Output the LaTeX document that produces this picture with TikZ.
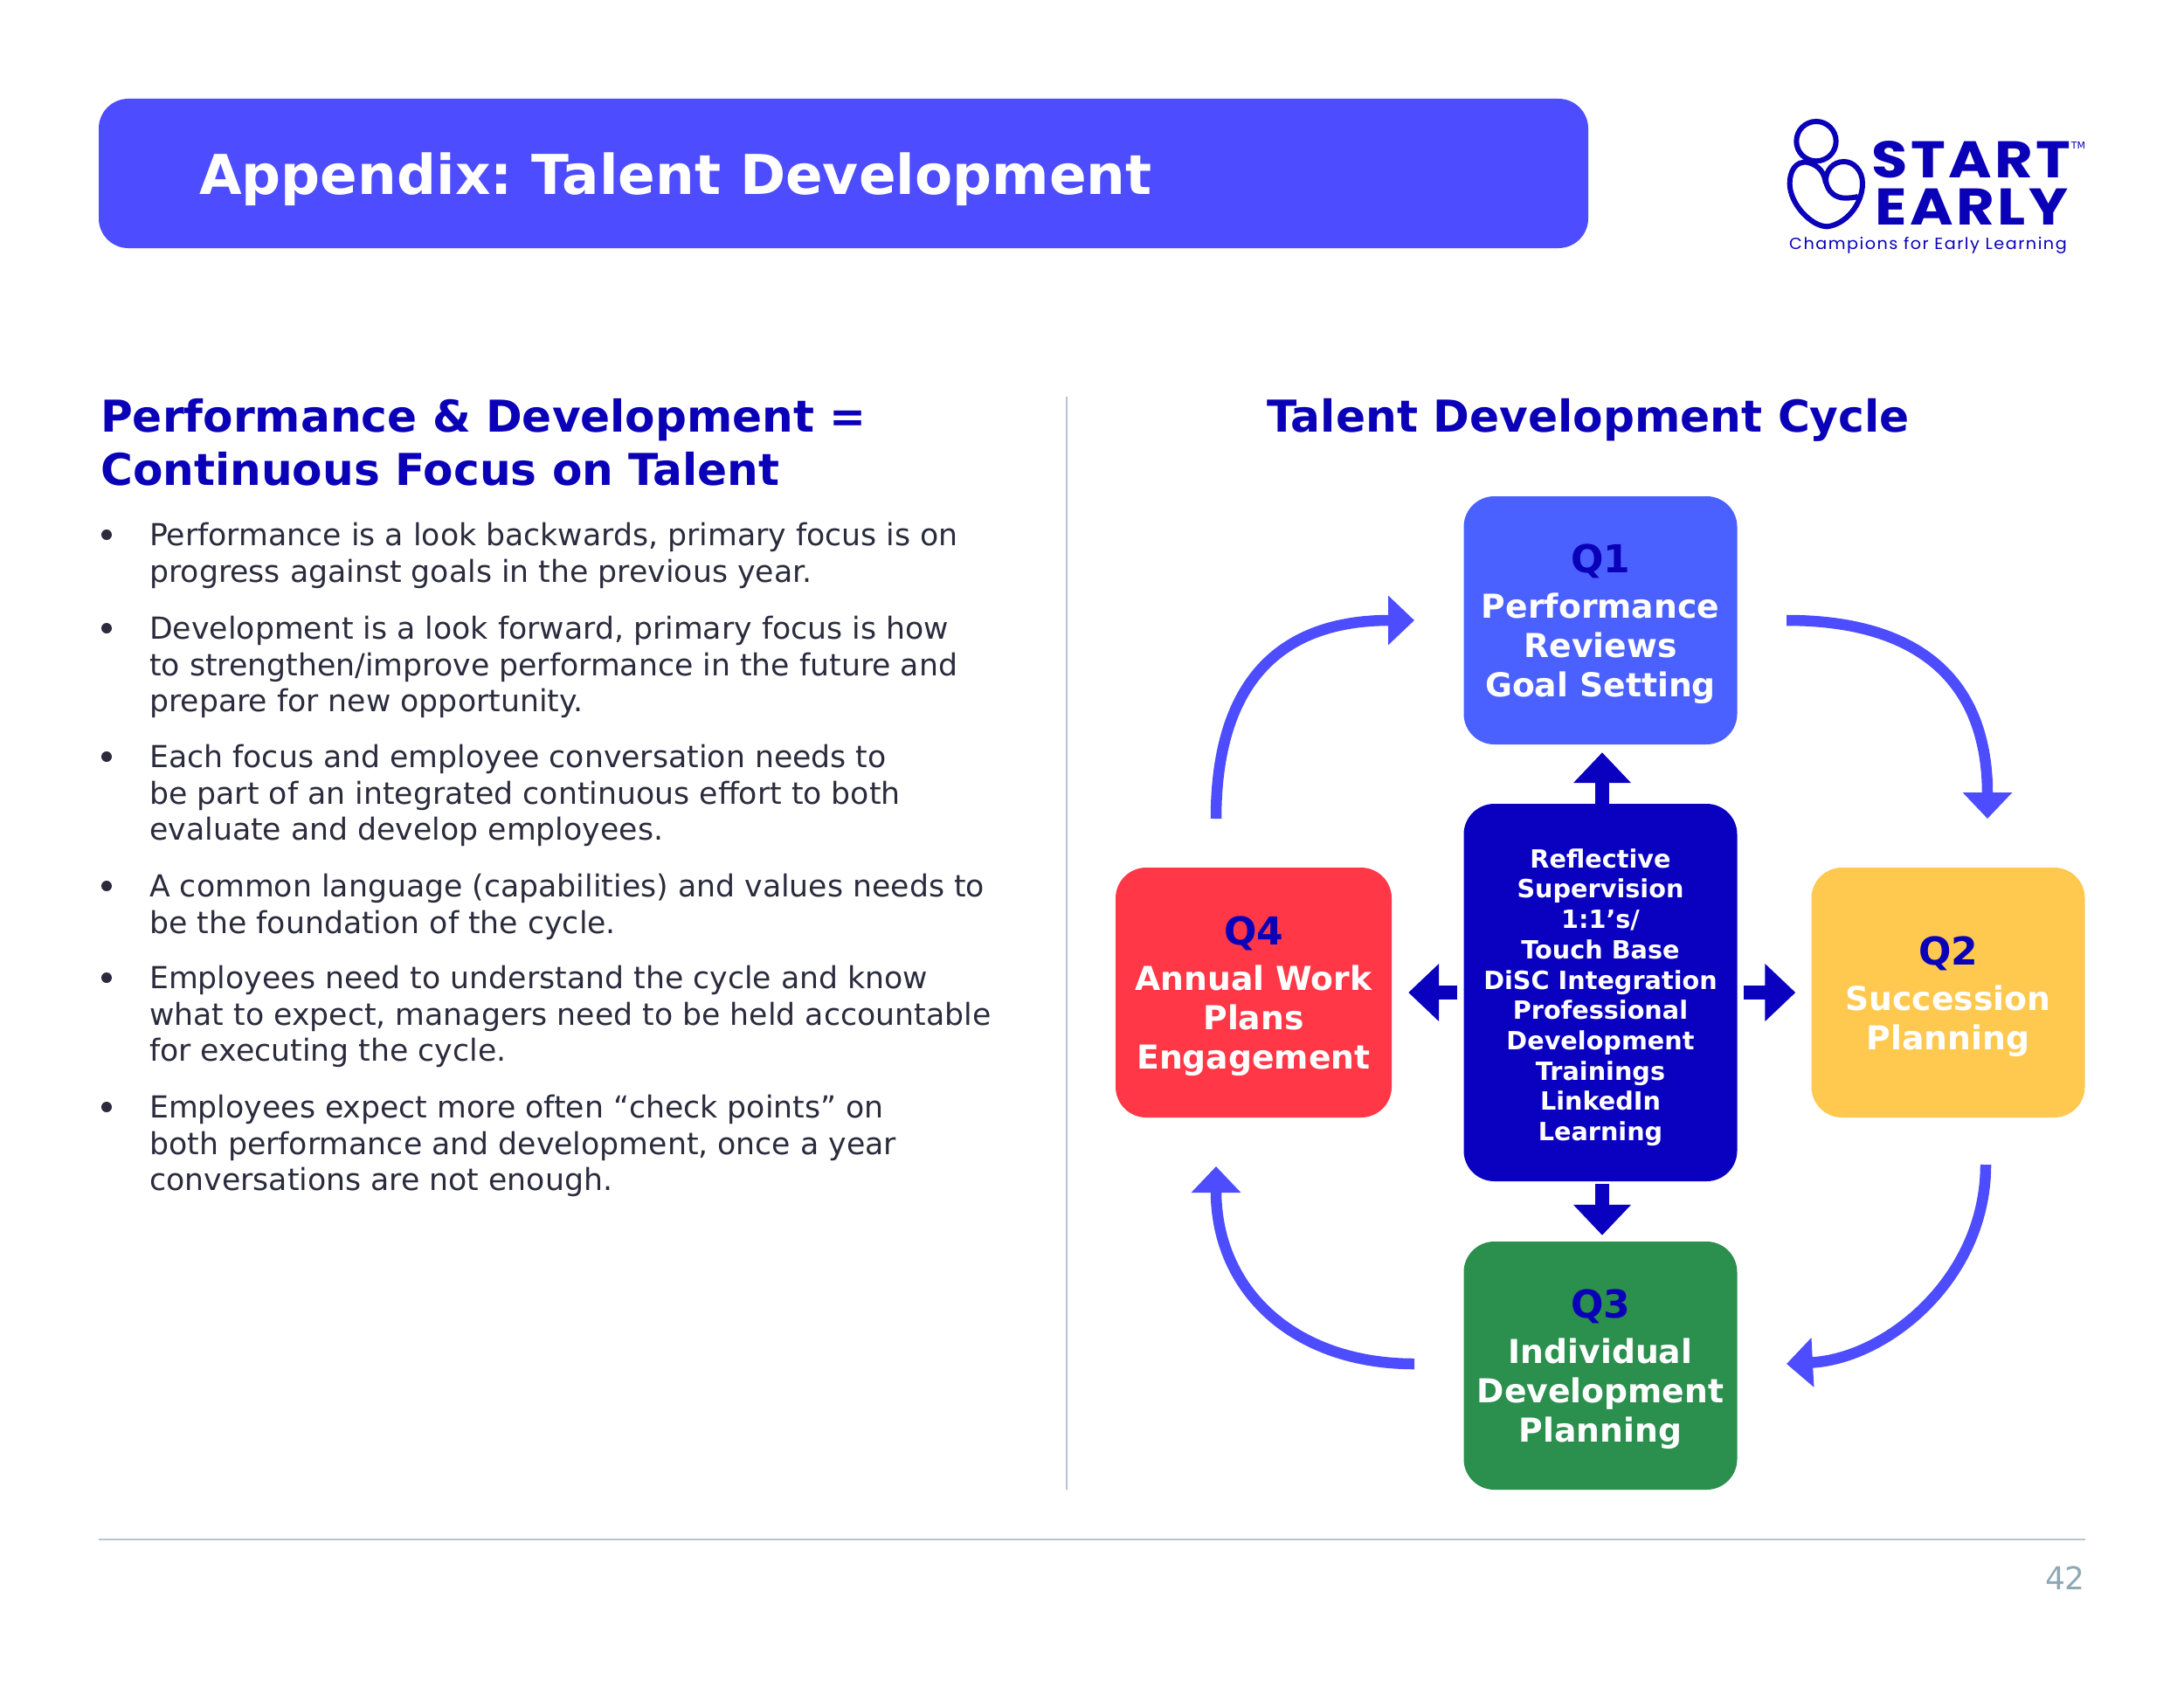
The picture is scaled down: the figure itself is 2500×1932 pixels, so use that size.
\documentclass[tikz,border=0pt]{standalone}
\usepackage{fontspec}
\setmainfont{DejaVu Sans}
\newfontfamily\logofont[FakeStretch=1.14,LetterSpace=6]{Poppins}
\newfontfamily\tagfont[FakeStretch=1.04,LetterSpace=8]{Poppins}
\usetikzlibrary{arrows.meta}
\definecolor{bannerblue}{HTML}{4D4DFF}
\definecolor{headblue}{HTML}{0A00B8}
\definecolor{qoneblue}{HTML}{4A61FF}
\definecolor{hubblue}{HTML}{0A00C0}
\definecolor{qtwoyellow}{HTML}{FFC84F}
\definecolor{qthreegreen}{HTML}{2B8F4E}
\definecolor{qfourred}{HTML}{FF3747}
\definecolor{rulegrey}{HTML}{B4C6D0}
\definecolor{pagegrey}{HTML}{8FA8B5}
\definecolor{bodyink}{HTML}{2B2B3D}
\newcommand{\qname}[1]{\rule{0pt}{42pt}\textcolor{headblue}{\fontsize{44}{46}\selectfont #1}\\[7pt]}
\tikzset{
  heading/.style={font=\fontsize{50.2}{61}\selectfont\bfseries,text=headblue,inner sep=0pt,align=left},
  bodytext/.style={font=\fontsize{34.7}{41.6}\selectfont,text=bodyink,anchor=north west,inner sep=0pt,align=left},
  dotmark/.style={circle,fill=bodyink,inner sep=0pt,minimum size=12pt},
  qbox/.style={rounded corners=35pt,minimum width=313pt,text=white,align=center,inner sep=0pt,
    font=\fontsize{37.7}{45}\selectfont\bfseries},
  cyclearrow/.style={bannerblue,line width=12.5pt,-{Triangle[width=55pt,length=30pt]}},
  hubarrow/.style={hubblue,line width=16pt,-{Triangle[width=64pt,length=35pt]}},
  logotext/.style={font=\logofont\bfseries\fontsize{59}{59}\selectfont,text=headblue,inner sep=0pt}
}
\begin{document}
\begin{tikzpicture}[x=1pt,y=-1pt]
  \useasboundingbox (0,0) rectangle (2500,1932);
  % banner
  \node[fill=bannerblue,rounded corners=34pt,minimum width=1705pt,minimum height=171pt,inner sep=0pt] (banner) at (965.5,198.5) {};
  \node[anchor=west,inner sep=0pt,text=white,font=\fontsize{62.9}{62.9}\selectfont\bfseries] (title) at (228,205) {Appendix:\hspace{-7pt} Talent Development};
  % logo
  \begin{scope}[shift={(1980,110)},scale=0.3333,headblue,line width=6pt]
    \draw (297,155) circle (68);
    \draw (330,300) .. controls (325,265) and (310,240) .. (270,228) .. controls (225,220) and (206,260) .. (206,300)
      .. controls (206,370) and (280,448) .. (335,448) .. controls (400,440) and (456,370) .. (456,300)
      .. controls (456,255) and (425,225) .. (392,225) .. controls (355,225) and (330,255) .. (330,290)
      .. controls (335,330) and (365,350) .. (395,350) .. controls (415,350) and (430,348) .. (440,345);
  \end{scope}
  \node[logotext,anchor=base west] (start) at (2142,203) {START};
  \node[logotext,anchor=base west] (early) at (2146,257) {EARLY};
  \node[inner sep=0pt,text=headblue,font=\fontsize{11}{11}\selectfont] (tm) at (2379,166) {TM};
  \node[inner sep=0pt,text=headblue,anchor=west,font=\tagfont\fontsize{18.5}{20}\selectfont] (tagline) at (2048,281) {Champions for Early Learning};
  % left column
  \node[heading,anchor=north west] (lefthead) at (115,456) {Performance \& Development =\\Continuous Focus on Talent};
  \foreach \y [count=\i] in {612,719,866,1014,1119,1267}
    \node[dotmark] (dot\i) at (122,\y) {};
  \node[bodytext] (b1) at (171,598) {Performance is a look backwards, primary focus is on\\progress against goals in the previous year.};
  \node[bodytext] (b2) at (171,705) {Development is a look forward, primary focus is how\\to strengthen/improve performance in the future and\\prepare for new opportunity.};
  \node[bodytext] (b3) at (171,852) {Each focus and employee conversation needs to\\be part of an integrated continuous effort to both\\evaluate and develop employees.};
  \node[bodytext] (b4) at (171,1000) {A common language (capabilities) and values needs to\\be the foundation of the cycle.};
  \node[bodytext] (b5) at (171,1105) {Employees need to understand the cycle and know\\what to expect, managers need to be held accountable\\for executing the cycle.};
  \node[bodytext] (b6) at (171,1253) {Employees expect more often “check points” on\\both performance and development, once a year\\conversations are not enough.};
  % rules
  \coordinate (ruletop) at (1221,454);
  \coordinate (rulebot) at (1221,1705);
  \coordinate (footl) at (113,1762);
  \coordinate (footr) at (2387,1762);
  \draw[rulegrey,line width=2pt] (ruletop) -- (rulebot);
  \draw[rulegrey,line width=2pt] (footl) -- (footr);
  \node[anchor=east,inner sep=0pt,text=pagegrey,font=\fontsize{36}{36}\selectfont] (pagenum) at (2387,1806) {42};
  % cycle
  \node[heading,font=\fontsize{50.3}{61}\selectfont\bfseries] (righthead) at (1818,481) {Talent Development Cycle};
  \node[qbox,fill=qoneblue,minimum height=284pt] (q1) at (1832,710) {\qname{Q1}Performance\\Reviews\\Goal Setting};
  \node[qbox,fill=qtwoyellow,minimum height=286pt] (q2) at (2230,1136) {\qname{Q2}Succession\\Planning};
  \node[qbox,fill=qthreegreen,minimum height=284pt] (q3) at (1832,1563) {\qname{Q3}Individual\\Development\\Planning};
  \node[qbox,fill=qfourred,minimum width=316pt,minimum height=286pt] (q4) at (1435,1136) {\qname{Q4}Annual Work\\Plans\\Engagement};
  \node[qbox,fill=hubblue,minimum height=432pt,font=\fontsize{28.7}{34.7}\selectfont\bfseries] (hub) at (1832,1136)
    {\rule{0pt}{33pt}Reflective\\Supervision\\1:1’s/\\Touch Base\\DiSC Integration\\Professional\\Development\\Trainings\\LinkedIn\\Learning};
  \draw[hubarrow,shorten >=9pt,shorten <=-2pt] ([xshift=2pt]hub.north) -- ([xshift=2pt]q1.south);
  \draw[hubarrow,shorten >=18pt,shorten <=7pt] (hub) -- (q2);
  \draw[hubarrow,shorten >=7pt,shorten <=3pt] ([xshift=2pt]hub.south) -- ([xshift=2pt]q3.north);
  \draw[hubarrow,shorten >=19pt,shorten <=7pt] (hub) -- (q4);
  \coordinate (q1out) at (2045,710);
  \coordinate (q2in) at (2275,937);
  \coordinate (q2out) at (2273,1333);
  \coordinate (q3in) at (2045,1561);
  \coordinate (q3out) at (1619,1561);
  \coordinate (q4in) at (1392,1335);
  \coordinate (q4out) at (1392,937);
  \coordinate (q1in) at (1619,710);
  \draw[cyclearrow] (q1out) .. controls +(155,0) and +(0,-155) .. (q2in);
  \draw[cyclearrow] (q2out) .. controls +(0,130) and +(115,-6) .. (q3in);
  \draw[cyclearrow] (q3out) .. controls +(-140,0) and +(0,140) .. (q4in);
  \draw[cyclearrow] (q4out) .. controls +(0,-155) and +(-155,0) .. (q1in);
\end{tikzpicture}
\end{document}
